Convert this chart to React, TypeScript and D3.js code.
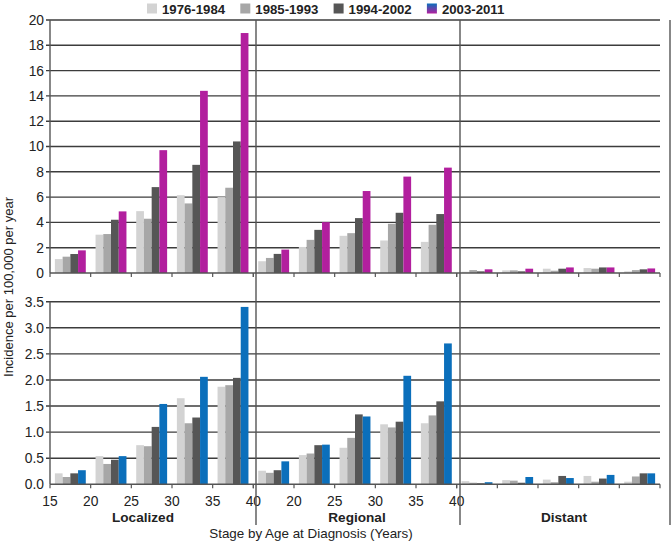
import React from "react";
import * as d3 from "d3";

const stages = ["Localized", "Regional", "Distant"];
const ageGroups = ["15-19", "20-24", "25-29", "30-34", "35-39"];
const periods = ["1976-1984", "1985-1993", "1994-2002", "2003-2011"];

// top panel: localized(5), regional(5), distant(5) per period
const top1976 = [1.1, 3.03, 4.89, 6.15, 6.0, 0.93, 2.06, 2.94, 2.57, 2.46, 0.1, 0.21, 0.34, 0.39, 0.13];
const top1985 = [1.29, 3.08, 4.29, 5.5, 6.74, 1.19, 2.62, 3.15, 3.89, 3.81, 0.23, 0.21, 0.18, 0.34, 0.23];
const top1994 = [1.5, 4.21, 6.79, 8.55, 10.4, 1.51, 3.41, 4.34, 4.76, 4.66, 0.13, 0.13, 0.34, 0.44, 0.29];
const top2003 = [1.79, 4.87, 9.71, 14.4, 18.97, 1.85, 4.02, 6.48, 7.62, 8.33, 0.29, 0.34, 0.44, 0.44, 0.36];

// bottom panel
const bot1976 = [0.21, 0.54, 0.75, 1.65, 1.87, 0.26, 0.56, 0.7, 1.15, 1.17, 0.06, 0.08, 0.09, 0.16, 0.05];
const bot1985 = [0.14, 0.39, 0.73, 1.17, 1.9, 0.22, 0.59, 0.89, 1.09, 1.32, 0.03, 0.07, 0.04, 0.05, 0.15];
const bot1994 = [0.21, 0.47, 1.1, 1.28, 2.04, 0.27, 0.75, 1.34, 1.2, 1.59, 0.02, 0.03, 0.16, 0.11, 0.21];
const bot2003 = [0.27, 0.54, 1.54, 2.06, 3.4, 0.44, 0.76, 1.3, 2.08, 2.7, 0.04, 0.14, 0.12, 0.18, 0.21];

const topTicks = [0, 2, 4, 6, 8, 10, 12, 14, 16, 18, 20];
const botTicks = [0, 0.5, 1, 1.5, 2, 2.5, 3, 3.5];
const ageTicks = [15, 20, 25, 30, 35, 40];

const W = 672;
const H = 543;
const left = 50;
const right = 660;
const font = "'Liberation Sans', Arial, sans-serif";

const greys = ["#d3d3d3", "#a7a7a7", "#565656"];
const magenta = "#b21f9e";
const blue = "#0b6fbb";

const keys = stages.flatMap((s) => ageGroups.map((a) => s + "|" + a));

const App = () => {
  const x = d3.scaleBand<string>().domain(keys).range([left, right]).paddingInner(0.24).paddingOuter(0.12);
  const xs = d3.scaleBand<number>().domain([0, 1, 2, 3]).range([0, x.bandwidth()]);
  const step = x.step();

  const panels = [
    {
      y: d3.scaleLinear().domain([0, 20]).range([273, 20]),
      ticks: topTicks,
      fmt: d3.format("d"),
      series: [top1976, top1985, top1994, top2003],
      last: magenta,
      labels: false,
    },
    {
      y: d3.scaleLinear().domain([0, 3.5]).range([484.3, 301.7]),
      ticks: botTicks,
      fmt: d3.format(".1f"),
      series: [bot1976, bot1985, bot1994, bot2003],
      last: blue,
      labels: true,
    },
  ];

  // linear age scale per stage, for the tick marks
  const ageScale = (i: number) =>
    d3.scaleLinear().domain([15, 40]).range([left + i * 5 * step, left + (i + 1) * 5 * step]);

  const dividers = [32, 256, 460, 670];

  return (
    <svg width={W} height={H} style={{ position: "absolute", left: 0, top: 0, fontFamily: font }}>
      <defs>
        <linearGradient id="lg4" x1="0" y1="0" x2="0" y2="1">
          <stop offset="0%" stopColor={blue} />
          <stop offset="100%" stopColor={magenta} />
        </linearGradient>
      </defs>
      <rect width={W} height={H} fill="#fff" />

      {/* legend */}
      {periods.map((p, i) => (
        <g key={p} transform={`translate(${147 + i * 93.3},0)`}>
          <rect x={0} y={3.5} width={10} height={10} fill={i < 3 ? greys[i] : "url(#lg4)"} />
          <text x={15} y={13.5} fontSize={13.2} fontWeight="bold" fill="#222">
            {p}
          </text>
        </g>
      ))}

      {panels.map((pn, pi) => {
        const [y0, y1] = pn.y.range();
        return (
          <g key={pi}>
            {/* grid */}
            {pn.ticks.map((t) => (
              <g key={t}>
                {t > 0 && (
                  <line x1={left - 4} x2={right} y1={pn.y(t)} y2={pn.y(t)} stroke="#3c3c3c" strokeWidth={1.4} />
                )}
                <text x={44} y={pn.y(t)} dy="0.36em" textAnchor="end" fontSize={13.8} fill="#222">
                  {pn.fmt(t)}
                </text>
              </g>
            ))}
            {/* bars */}
            {pn.series.map((vals, si) =>
              vals.map((v, k) => (
                <rect
                  key={si + "-" + k}
                  x={(x(keys[k]) as number) + (xs(si) as number)}
                  y={pn.y(v)}
                  width={xs.bandwidth()}
                  height={y0 - pn.y(v)}
                  fill={si < 3 ? greys[si] : pn.last}
                />
              ))
            )}
            {/* axes */}
            <line x1={left} x2={left} y1={y1} y2={y0} stroke="#555" strokeWidth={1.4} />
            <line x1={left} x2={right} y1={y0} y2={y0} stroke="#555" strokeWidth={1.4} />
            {stages.map((s, i) => {
              const a = ageScale(i);
              return ageTicks.map((t) => (
                <g key={s + t}>
                  <line x1={a(t)} x2={a(t)} y1={y0} y2={y0 + 4} stroke="#555" strokeWidth={1.2} />
                  {pn.labels && i < 2 && !(i === 1 && t === 15) && (
                    <text x={a(t)} y={506} textAnchor="middle" fontSize={13.8} fill="#222">
                      {t}
                    </text>
                  )}
                </g>
              ));
            })}
          </g>
        );
      })}

      {/* stage dividers */}
      {dividers.slice(1).map((d) => (
        <line key={d} x1={d} x2={d} y1={20} y2={525} stroke="#555" strokeWidth={1.4} />
      ))}
      {stages.map((s, i) => (
        <text
          key={s}
          x={(dividers[i] + dividers[i + 1]) / 2 - 1}
          y={522}
          textAnchor="middle"
          fontSize={13.6}
          fontWeight="bold"
          fill="#222"
        >
          {s}
        </text>
      ))}

      <text x={311} y={538} textAnchor="middle" fontSize={13.4} fill="#222">
        Stage by Age at Diagnosis (Years)
      </text>
      <text transform="translate(13,287) rotate(-90)" textAnchor="middle" fontSize={13} fill="#222">
        Incidence per 100,000 per year
      </text>
    </svg>
  );
};

export default App;
